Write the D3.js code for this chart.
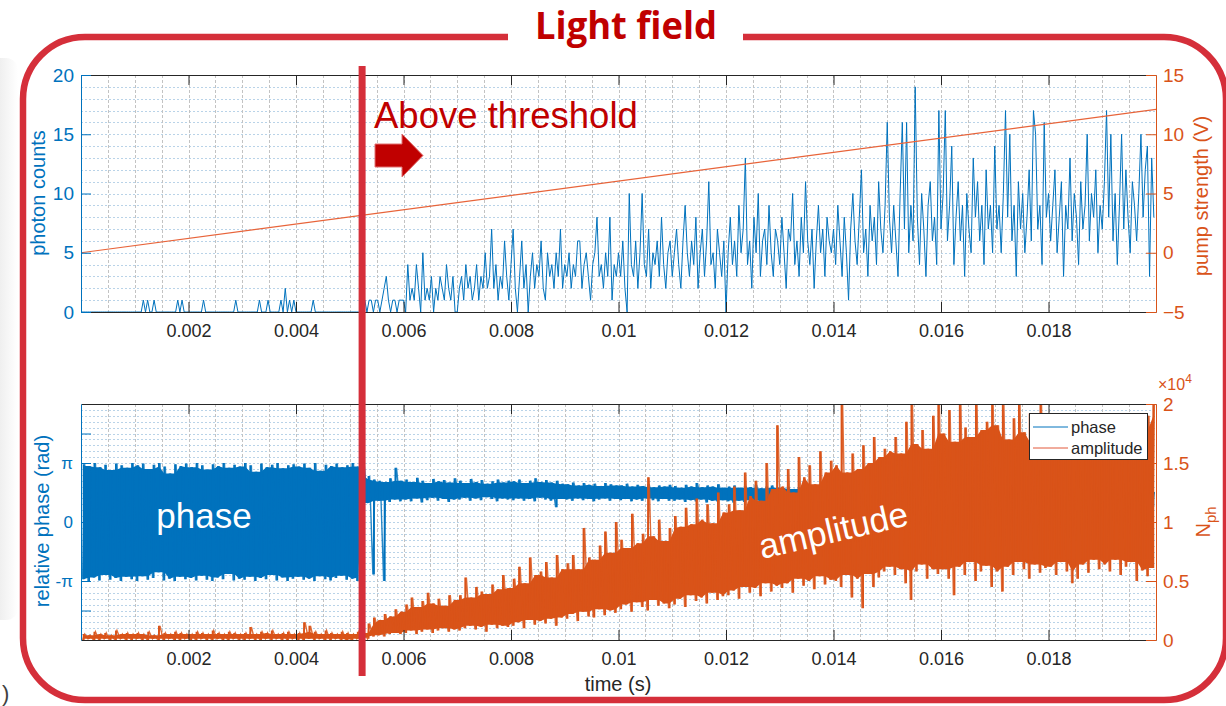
<!DOCTYPE html>
<html><head><meta charset="utf-8">
<script src="https://cdn.jsdelivr.net/npm/d3@7"></script>
<style>
body{margin:0;background:#fff;}
svg{display:block;font-family:"Liberation Sans",Arial,sans-serif;}
</style></head>
<body><svg id="c" width="1226" height="706"></svg>
<script>
// ---------------- DATA ----------------
// photon counts, one sample every 40 µs from t = 0
const countStep = 0.00004;
const photonCounts = [
0,0,0,0,0,0,0,0,0,0,0,0,0,0,0,0,0,0,0,0,0,0,0,0,0,
0,0,0,0,1,0,1,0,0,1,0,0,0,0,0,0,0,0,0,0,1,0,1,0,0,
0,0,0,0,0,0,0,1,0,0,0,0,0,0,0,0,0,0,0,0,0,0,1,0,0,
0,0,0,0,0,0,0,0,1,0,0,0,1,0,0,0,0,0,1,0,2,0,1,0,1,
0,0,0,0,0,0,0,0,1,0,0,0,0,0,0,0,0,0,0,0,0,0,0,0,0,
0,0,0,0,0,0,0,1,0,1,1,0,1,1,0,1,2,3,1,0,1,1,0,1,1,
1,0,4,1,2,1,4,2,0,5,1,2,1,3,0,2,1,3,2,1,4,2,1,3,0,
0,2,3,1,4,2,3,1,2,4,1,3,2,5,2,3,7,2,4,1,3,2,6,3,1,
4,7,2,0,3,6,2,4,0,3,5,2,4,3,6,2,1,5,3,4,2,5,3,7,2,
4,3,5,2,4,3,6,6,2,4,5,3,1,4,5,8,3,4,2,5,3,8,1,4,3,
5,3,6,2,0,10,4,3,6,2,5,10,4,3,7,2,5,4,6,3,8,4,2,5,6,
3,5,7,4,2,6,9,5,3,6,4,8,2,5,7,3,6,11,4,5,2,7,5,3,6,
0,5,8,4,6,3,9,5,7,13,4,6,2,8,5,10,3,6,7,4,9,5,3,7,6,
4,8,5,2,7,6,10,4,6,3,8,5,11,6,4,7,2,6,9,5,7,3,8,6,5,
7,4,9,6,3,8,5,1,7,10,6,4,8,12,5,7,3,9,6,8,4,11,7,5,9,
16,8,5,9,6,3,10,16,7,16,5,9,6,19,8,4,10,7,3,9,11,6,8,4,17,
7,10,17,6,9,14,4,8,11,6,9,3,10,7,5,13,8,11,6,9,4,12,7,9,5,
14,7,9,5,10,17,8,15,6,9,3,11,7,10,5,8,12,6,17,15,7,9,4,16,8,
10,6,9,12,5,8,11,3,9,7,13,6,10,8,4,11,7,9,15,6,10,8,12,5,9,
7,11,17,8,15,6,10,4,9,15,7,12,8,5,11,9,6,10,15,8,12,14,3,13,8
];
// pump strength ramp (V)
const pumpTime = [0, 0.02];
const pumpVolt = [0, 12.1];

// bottom panel: per 100 µs bin, min / max of the trace
const binStep = 0.0001;
// amplitude N_ph in units of 1e4
const ampHi = [
.05,.04,.07,.05,.06,.04,.08,.05,.06,.05,
.06,.05,.07,.04,.12,.06,.05,.07,.06,.05,
.05,.07,.06,.05,.08,.06,.05,.07,.06,.05,
.06,.11,.05,.07,.06,.08,.05,.06,.07,.05,
.06,.15,.12,.07,.05,.08,.06,.05,.07,.06,
.05,.07,.06,.14,.19,.17,.22,.20,.26,.24,
.30,.36,.28,.33,.40,.31,.35,.29,.38,.34,
.38,.53,.36,.45,.41,.39,.47,.43,.55,.44,
.52,.62,.48,.70,.55,.58,.66,.53,.72,.60,
.65,.72,.60,.95,.70,.68,.80,.92,.74,1.00,
.85,.78,1.07,.82,.90,1.38,.88,1.02,.84,.95,
1.05,.96,1.12,.98,1.20,1.02,1.15,.99,1.25,1.08,
1.15,1.30,1.10,1.42,1.22,1.35,1.18,1.50,1.28,1.82,
1.30,1.45,1.25,1.55,1.38,1.48,1.32,1.60,1.42,1.52,
1.48,2.00,1.42,1.58,1.45,1.65,1.50,1.72,1.55,1.62,
1.60,1.72,1.58,1.85,2.00,1.66,1.78,1.62,1.90,2.00,
1.75,1.95,1.68,2.00,1.80,1.72,2.00,1.78,1.85,2.00,
1.82,2.00,1.70,1.88,2.00,1.76,1.92,1.68,2.00,1.80,
1.72,1.85,1.66,1.78,1.62,1.90,1.70,1.82,1.65,1.76,
1.68,1.80,1.62,1.75,1.66,1.85,1.70,1.78,1.90,2.00
];
const ampLo = [
0,.01,0,0,.01,0,0,.01,0,0,
.01,0,0,.01,0,0,.01,0,0,.01,
0,0,.01,0,0,.01,0,0,.01,0,
0,.01,0,0,.01,0,.01,0,0,.01,
0,0,.01,0,.01,0,0,.01,0,0,
0,.01,0,.01,.03,.04,.03,.05,.06,.05,
.06,.08,.05,.07,.09,.06,.08,.10,.07,.09,
.08,.10,.12,.09,.11,.07,.13,.10,.12,.11,
.12,.15,.10,.17,.13,.16,.14,.18,.12,.19,
.18,.22,.16,.24,.20,.19,.26,.21,.25,.23,
.26,.30,.24,.32,.28,.25,.34,.29,.31,.27,
.30,.35,.28,.38,.33,.36,.31,.40,.34,.37,
.38,.42,.35,.45,.40,.44,.37,.48,.41,.46,
.44,.48,.40,.52,.46,.50,.43,.54,.47,.51,
.50,.45,.55,.36,.52,.27,.56,.45,.53,.58,
.62,.55,.60,.48,.34,.58,.64,.52,.60,.56,
.60,.52,.38,.62,.55,.66,.50,.58,.63,.45,
.58,.41,.62,.55,.66,.60,.52,.64,.57,.61,
.62,.55,.66,.58,.48,.52,.64,.57,.68,.60,
.64,.58,.68,.55,.62,.66,.50,.59,.54,.61
];
// relative phase in units of pi
const phaseHi = [
.98,.95,1.0,.93,.97,.88,.99,.96,.92,1.0,
.96,.99,.90,.97,1.0,.94,.82,.98,.95,.99,
.93,1.0,.96,.89,.98,.95,1.0,.92,.97,.94,
1.0,.96,.85,.99,.93,.97,1.0,.91,.96,.98,
.94,.99,.92,1.0,.87,.97,.95,.99,.93,.96,
1.0,.94,.97,.78,.72,.70,.68,.74,.92,.70,
.72,.68,.75,.70,.66,.73,.69,.71,.67,.74,
.70,.66,.73,.68,.71,.65,.69,.72,.67,.70,
.69,.72,.66,.70,.74,.68,.71,.67,.70,.65,
.64,.67,.62,.66,.63,.65,.61,.66,.64,.62,
.62,.65,.60,.63,.61,.64,.59,.62,.60,.63,
.61,.58,.63,.60,.66,.59,.62,.60,.64,.58,
.60,.62,.58,.61,.59,.63,.57,.60,.62,.58,
.58,.60,.56,.59,.57,.61,.55,.58,.56,.59,
.57,.55,.58,.54,.56,.59,.55,.57,.54,.56,
.55,.57,.53,.56,.54,.58,.52,.55,.57,.53,
.54,.56,.52,.55,.57,.53,.55,.52,.56,.54,
.53,.55,.51,.54,.56,.52,.54,.51,.55,.53,
.52,.54,.50,.53,.55,.51,.53,.50,.54,.52,
.51,.53,.49,.52,.54,.50,.52,.49,.53,.51
];
const phaseLo = [
-.97,-1.0,-.94,-.99,-.90,-.98,-.95,-1.0,-.93,-.97,
-1.0,-.92,-.98,-.95,-.85,-.99,-.96,-1.0,-.93,-.97,
-.95,-.99,-.91,-.98,-1.0,-.94,-.97,-.88,-.99,-.96,
-.98,-.93,-1.0,-.95,-.97,-.90,-.99,-.94,-1.0,-.96,
-.93,-.98,-.96,-1.0,-.92,-.97,-.99,-.95,-.91,-.98,
-.96,-1.0,-.94,.32,-.89,.36,-1.0,.34,.38,.35,
.38,.35,.40,.33,.37,.41,.36,.39,.34,.38,
.38,.41,.36,.40,.37,.42,.39,.35,.40,.38,
.37,.40,.36,.39,.35,.41,.38,.36,.25,.39,
.38,.36,.40,.37,.39,.35,.38,.40,.36,.39,
.37,.39,.35,.38,.36,.40,.37,.35,.39,.36,
.36,.38,.34,.37,.35,.38,.33,.36,.35,.37,
.35,.33,.36,.34,.37,.32,.35,.34,.33,.36,
.34,.32,.35,.33,.31,.34,.32,.35,.33,.31,
.33,.31,.34,.30,.32,.33,.31,.34,.30,.32,
.31,.29,.32,.30,.33,.28,.31,.30,.32,.29,
.30,.32,.28,.31,.29,.33,.30,.28,.31,.29,
.29,.31,.27,.30,.28,.32,.29,.27,.30,.28,
.28,.30,.26,.29,.27,.31,.28,.26,.29,.27,
.27,.29,.25,.28,.26,.30,.27,.25,.28,.26
];
// ticks
const timeTicks = [0.002,0.004,0.006,0.008,0.01,0.012,0.014,0.016,0.018];
const timeGrid = d3.range(1,40).map(i => i*0.0005);
const countTicks = [0,5,10,15,20];
const pumpTicks = [-5,0,5,10,15];
const phaseTicks = [-1.5,-1,0,1,1.5];
const phaseTickLabels = {"-1.5":"", "-1":"-\u03c0", "0":"0", "1":"\u03c0", "1.5":""};
const ampTicks = [0,0.5,1,1.5,2];
const thresholdTime = 0.00523;

// ---------------- DRAWING ----------------
const BLUE="#0072BD", ORANGE="#D95319", DARK="#262626", RED="#d52f3a", DRED="#c00000";
const svg = d3.select("#c");
const defs = svg.append("defs");

// left card shadow
const lg = defs.append("linearGradient").attr("id","sh").attr("x1","0").attr("x2","1");
lg.append("stop").attr("offset","0").attr("stop-color","#dedede");
lg.append("stop").attr("offset","1").attr("stop-color","#ffffff");
svg.append("rect").attr("x",-20).attr("y",58).attr("width",38).attr("height",562).attr("rx",12).attr("fill","url(#sh)");
svg.append("text").attr("x",2).attr("y",701).attr("font-size",22).attr("fill","#404040").text(")");

const x = d3.scaleLinear().domain([0,0.02]).range([81,1156]);
const P1 = {top:75,bottom:312}, P2 = {top:404,bottom:640};
const yCounts = d3.scaleLinear().domain([0,20]).range([P1.bottom,P1.top]);
const yPump = d3.scaleLinear().domain([-5,15]).range([P1.bottom,P1.top]);
const yPhase = d3.scaleLinear().domain([-2,2]).range([P2.bottom,P2.top]);
const yAmp = d3.scaleLinear().domain([0,2]).range([P2.bottom,P2.top]);

[["c1",P1],["c2",P2]].forEach(([id,P])=>{
  defs.append("clipPath").attr("id",id).append("rect")
    .attr("x",x(0)).attr("y",P.top).attr("width",x(0.02)-x(0)).attr("height",P.bottom-P.top);
});

function grid(P, yScale, yVals){
  const g = svg.append("g").attr("shape-rendering","crispEdges");
  g.selectAll("line.h").data(yVals).join("line").attr("class","h")
    .attr("x1",x(0)).attr("x2",x(0.02)).attr("y1",d=>Math.round(yScale(d))+0.5).attr("y2",d=>Math.round(yScale(d))+0.5)
    .attr("stroke","#b9d3e8").attr("stroke-dasharray","2,2");
  g.selectAll("line.v").data(timeGrid).join("line").attr("class","v")
    .attr("x1",d=>Math.round(x(d))+0.5).attr("x2",d=>Math.round(x(d))+0.5).attr("y1",P.top).attr("y2",P.bottom)
    .attr("stroke","#c3c3c3").attr("stroke-dasharray","3,2");
}
grid(P1, yCounts, d3.range(1,20));
grid(P2, yAmp, d3.range(1,40).map(i=>i*0.05));

// top data
const gTop = svg.append("g").attr("clip-path","url(#c1)");
gTop.append("path").datum(photonCounts)
  .attr("d", d3.line().x((d,i)=>x(i*countStep)).y(d=>yCounts(d)))
  .attr("fill","none").attr("stroke",BLUE).attr("stroke-width",1);
gTop.append("path").datum(d3.zip(pumpTime,pumpVolt))
  .attr("d", d3.line().x(d=>x(d[0])).y(d=>yPump(d[1])))
  .attr("fill","none").attr("stroke","#e8643a").attr("stroke-width",1.2);

// bottom data: the densely overplotted part (what every neighbouring bin shares)
// is filled, the per-bin extremes are drawn as thin spikes
const gBot = svg.append("g").attr("clip-path","url(#c2)");
function drawTrace(lo, hi, yScale, color){
  const n = lo.length;
  const core = lo.map((v,i)=>{
    const w = d3.range(Math.max(0,i-1), Math.min(n,i+2));
    let a = d3.max(w, j=>lo[j]), b = d3.min(w, j=>hi[j]);
    if (a > b) { a = b = (a+b)/2; }
    return [i*binStep + binStep*0.5, a, b];
  });
  gBot.append("path").datum(core)
    .attr("d", d3.area().x(d=>x(d[0])).y0(d=>yScale(d[1])).y1(d=>yScale(d[2])))
    .attr("fill",color);
  gBot.append("path").datum(lo.flatMap((v,i)=>[[i*binStep+binStep*0.3,v],[i*binStep+binStep*0.7,hi[i]]]))
    .attr("d", d3.line().x(d=>x(d[0])).y(d=>yScale(d[1])))
    .attr("fill","none").attr("stroke",color).attr("stroke-width",1.4).attr("stroke-opacity",0.85);
  const spikes = lo.map((v,i)=>{
    const xc = x(i*binStep + binStep*0.5);
    return `M${xc},${yScale(v)}L${xc},${yScale(hi[i])}`;
  }).join("");
  gBot.append("path").attr("d",spikes).attr("stroke",color).attr("stroke-width",1.9).attr("fill","none");
}
drawTrace(phaseLo, phaseHi, yPhase, BLUE);
drawTrace(ampLo, ampHi, yAmp, ORANGE);

// axes
const fmtT = d => String(+d.toFixed(3));
function styleAxis(g, color, size){
  g.attr("font-family",null).attr("font-size",null);
  g.select(".domain").attr("stroke",color).attr("stroke-width",1);
  g.selectAll(".tick line").attr("stroke",color);
  g.selectAll(".tick text").attr("fill",color).attr("font-size",size).attr("font-family","Liberation Sans, Arial, sans-serif");
}
[P1,P2].forEach(P=>{
  styleAxis(svg.append("g").attr("transform",`translate(0,${P.bottom})`)
    .call(d3.axisBottom(x).tickValues(timeTicks).tickSizeInner(-10).tickSizeOuter(0).tickPadding(12).tickFormat(fmtT)), DARK, 18);
  styleAxis(svg.append("g").attr("transform",`translate(0,${P.top})`)
    .call(d3.axisTop(x).tickValues(timeTicks).tickSizeInner(-10).tickSizeOuter(0).tickFormat("")), DARK, 18);
});
styleAxis(svg.append("g").attr("transform",`translate(${x(0)},0)`)
  .call(d3.axisLeft(yCounts).tickValues(countTicks).tickSizeInner(-10).tickSizeOuter(0).tickPadding(7)), BLUE, 19);
styleAxis(svg.append("g").attr("transform",`translate(${x(0.02)},0)`)
  .call(d3.axisRight(yPump).tickValues(pumpTicks).tickSizeInner(-10).tickSizeOuter(0).tickPadding(7)), ORANGE, 19);
styleAxis(svg.append("g").attr("transform",`translate(${x(0)},0)`)
  .call(d3.axisLeft(yPhase).tickValues(phaseTicks).tickSizeInner(-10).tickSizeOuter(0).tickPadding(8).tickFormat(d=>phaseTickLabels[String(d)])), BLUE, 17);
styleAxis(svg.append("g").attr("transform",`translate(${x(0.02)},0)`)
  .call(d3.axisRight(yAmp).tickValues(ampTicks).tickSizeInner(-10).tickSizeOuter(0).tickPadding(7).tickFormat(d=>String(d))), ORANGE, 19);

// axis labels
function vlabel(xp, yp, color, size){
  return svg.append("text").attr("transform",`translate(${xp},${yp}) rotate(-90)`)
    .attr("text-anchor","middle").attr("fill",color).attr("font-size",size);
}
vlabel(45,193,BLUE,20).text("photon counts");
vlabel(1208,196,ORANGE,20).text("pump strength (V)");
vlabel(49,521,BLUE,20).text("relative phase (rad)");
const nph = vlabel(1210,522,ORANGE,20);
nph.append("tspan").text("N");
nph.append("tspan").attr("font-size",15).attr("dy",6).text("ph");
const e4 = svg.append("text").attr("x",1158).attr("y",390).attr("fill",ORANGE).attr("font-size",16);
e4.append("tspan").text("\u00d710");
e4.append("tspan").attr("font-size",12).attr("dy",-7).text("4");
svg.append("text").attr("x",618).attr("y",691).attr("text-anchor","middle").attr("fill",DARK).attr("font-size",20).text("time (s)");

// legend
const leg = svg.append("g");
leg.append("rect").attr("x",1029.5).attr("y",413.5).attr("width",118).attr("height",46).attr("fill","#fff").attr("stroke",DARK).attr("stroke-width",1);
[["phase",BLUE,427],["amplitude","#e2583a",448]].forEach(([name,col,yy])=>{
  leg.append("line").attr("x1",1033).attr("x2",1068).attr("y1",yy).attr("y2",yy).attr("stroke",col).attr("stroke-width",1);
  leg.append("text").attr("x",1071).attr("y",yy+6).attr("font-size",16.5).attr("fill",DARK).text(name);
});

// in-plot annotations
svg.append("text").attr("x",204).attr("y",528).attr("text-anchor","middle").attr("fill","#fff").attr("font-size",35).text("phase");
svg.append("text").attr("transform","translate(836,542) rotate(-13)").attr("text-anchor","middle").attr("fill","#fff").attr("font-size",35).text("amplitude");
svg.append("text").attr("x",374).attr("y",128).attr("fill",DRED).attr("font-size",36.5).text("Above threshold");
svg.append("path").attr("d","M375,144 L402,144 L402,134 L423,155.5 L402,177 L402,167 L375,167 Z")
  .attr("fill",DRED).attr("stroke","#e07070").attr("stroke-width",1);

// threshold marker
svg.append("line").attr("x1",x(thresholdTime)).attr("x2",x(thresholdTime)).attr("y1",66).attr("y2",676)
  .attr("stroke",RED).attr("stroke-width",7);

// frame
const L=23,R=1226,T=37,Bt=700,r=62;
svg.append("path").attr("d",`M743,${T} L${R-r},${T} A${r},${r} 0 0 1 ${R},${T+r} L${R},${Bt-r} A${r},${r} 0 0 1 ${R-r},${Bt} L${L+r},${Bt} A${r},${r} 0 0 1 ${L},${Bt-r} L${L},${T+r} A${r},${r} 0 0 1 ${L+r},${T} L508,${T}`)
  .attr("fill","none").attr("stroke",RED).attr("stroke-width",6.5);
svg.append("text").attr("x",626).attr("y",39).attr("text-anchor","middle").attr("fill",DRED)
  .attr("font-family","'Open Sans', sans-serif").attr("font-weight","bold").attr("font-size",37)
  .attr("textLength",182).attr("lengthAdjust","spacingAndGlyphs").text("Light field");
</script>
</body></html>
